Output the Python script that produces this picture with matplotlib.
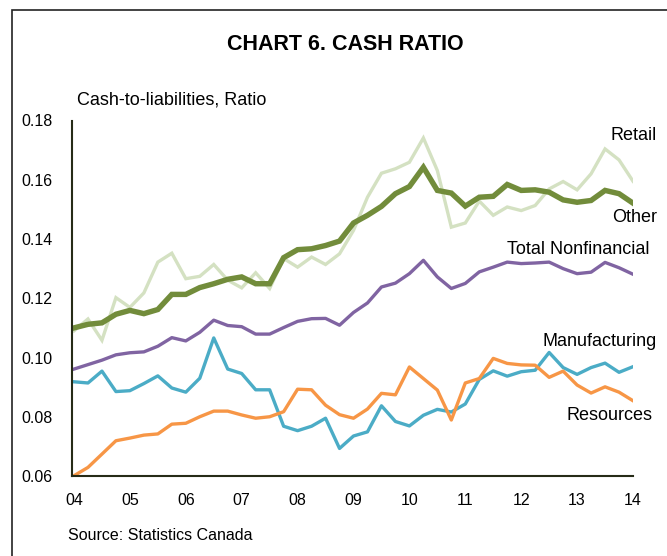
import numpy as np
import matplotlib
matplotlib.use("Agg")
import matplotlib.pyplot as plt
from matplotlib.patches import Rectangle

plt.rcParams['font.family'] = ['Liberation Sans', 'DejaVu Sans']

# Quarterly data, 2004Q1 to 2014Q1
quarters = 2004 + np.arange(41) / 4.0
year_ticks = list(range(2004, 2015))
year_labels = ['04', '05', '06', '07', '08', '09', '10', '11', '12', '13', '14']

retail = [0.1090, 0.1130, 0.1058, 0.1202, 0.1169, 0.1218, 0.1322, 0.1352, 0.1266, 0.1274,
          0.1314, 0.1261, 0.1235, 0.1286, 0.1233, 0.1334, 0.1305, 0.1339, 0.1314, 0.1350,
          0.1429, 0.1541, 0.1622, 0.1637, 0.1659, 0.1741, 0.1631, 0.1440, 0.1454, 0.1528,
          0.1480, 0.1508, 0.1496, 0.1513, 0.1569, 0.1594, 0.1566, 0.1620, 0.1704, 0.1667,
          0.1595]
other = [0.1100, 0.1112, 0.1117, 0.1146, 0.1159, 0.1148, 0.1162, 0.1213, 0.1213, 0.1236,
         0.1249, 0.1264, 0.1272, 0.1249, 0.1249, 0.1337, 0.1364, 0.1367, 0.1378, 0.1393,
         0.1454, 0.1480, 0.1510, 0.1553, 0.1577, 0.1642, 0.1564, 0.1555, 0.1511, 0.1541,
         0.1544, 0.1584, 0.1564, 0.1566, 0.1558, 0.1532, 0.1524, 0.1530, 0.1564, 0.1553,
         0.1521]
total_nonfin = [0.0961, 0.0976, 0.0991, 0.1009, 0.1016, 0.1019, 0.1038, 0.1067, 0.1056, 0.1085,
                0.1126, 0.1108, 0.1104, 0.1079, 0.1079, 0.1101, 0.1122, 0.1131, 0.1132, 0.1109,
                0.1152, 0.1184, 0.1238, 0.1251, 0.1283, 0.1328, 0.1272, 0.1233, 0.1250, 0.1289,
                0.1305, 0.1322, 0.1317, 0.1319, 0.1322, 0.1300, 0.1283, 0.1288, 0.1321, 0.1303,
                0.1281]
manufacturing = [0.0918, 0.0914, 0.0954, 0.0885, 0.0888, 0.0912, 0.0938, 0.0897, 0.0883, 0.0930,
                 0.1066, 0.0961, 0.0946, 0.0891, 0.0891, 0.0768, 0.0753, 0.0768, 0.0795, 0.0693,
                 0.0735, 0.0749, 0.0837, 0.0784, 0.0769, 0.0805, 0.0825, 0.0816, 0.0843, 0.0926,
                 0.0955, 0.0937, 0.0952, 0.0957, 0.1017, 0.0966, 0.0943, 0.0966, 0.0981, 0.0950,
                 0.0969]
resources = [0.0601, 0.0629, 0.0674, 0.0719, 0.0728, 0.0738, 0.0742, 0.0775, 0.0778, 0.0800,
             0.0819, 0.0819, 0.0806, 0.0795, 0.0800, 0.0817, 0.0893, 0.0891, 0.0839, 0.0807,
             0.0795, 0.0826, 0.0879, 0.0874, 0.0968, 0.0929, 0.0890, 0.0789, 0.0914, 0.0929,
             0.0997, 0.0980, 0.0975, 0.0974, 0.0933, 0.0954, 0.0907, 0.0880, 0.0901, 0.0883,
             0.0854]

W, H = 667, 556
fig = plt.figure(figsize=(W / 100, H / 100), dpi=100)
ax = fig.add_axes([72 / W, 1 - 476 / H, (633 - 72) / W, (476 - 120.5) / H])

ax.plot(quarters, retail, color='#d4e1c2', lw=2.4, solid_joinstyle='miter')
ax.plot(quarters, other, color='#728c3b', lw=3.9, solid_joinstyle='miter')
ax.plot(quarters, total_nonfin, color='#8064a2', lw=2.4)
ax.plot(quarters, manufacturing, color='#4bacc6', lw=2.4)
ax.plot(quarters, resources, color='#f79646', lw=2.4)

ax.set_xlim(2004 - 2 / 55.9, 2014)
ax.set_ylim(0.06, 0.18)
ax.set_xticks(year_ticks)
ax.set_xticklabels(year_labels)
ax.set_yticks(np.arange(0.06, 0.181, 0.02))
ax.set_yticklabels(['%.2f' % v for v in np.arange(0.06, 0.181, 0.02)])
ax.tick_params(length=0, labelsize=11.5, colors='black')
ax.tick_params(axis='y', pad=14)
ax.tick_params(axis='x', pad=12)
for s in ['top', 'right']:
    ax.spines[s].set_visible(False)
for s in ['left', 'bottom']:
    ax.spines[s].set_color('#262b17')
    ax.spines[s].set_linewidth(1.5)

def ftext(x, y, s, **kw):
    fig.text(x / W, 1 - y / H, s, **kw)

ftext(345, 45, 'CHART 6. CASH RATIO', ha='center', va='center', fontsize=15.5, fontweight='bold')
ftext(77, 100, 'Cash-to-liabilities, Ratio', ha='left', va='center', fontsize=13)
ftext(611, 135, 'Retail', ha='left', va='center', fontsize=13)
ftext(612, 218, 'Other', ha='left', va='center', fontsize=13)
ftext(507, 249, 'Total Nonfinancial', ha='left', va='center', fontsize=13)
ftext(542, 342, 'Manufacturing', ha='left', va='center', fontsize=13)
ftext(566, 415, 'Resources', ha='left', va='center', fontsize=13)
ftext(68, 535, 'Source: Statistics Canada', ha='left', va='center', fontsize=11.5)

# outer frame (only top and left edges fall inside the image)
fig.patches.append(Rectangle((12 / W, -0.5), 1.5, 1.5 - 10 / H, transform=fig.transFigure,
                             fill=False, edgecolor='#222222', lw=1.2))

fig.savefig('out.png', dpi=100)
